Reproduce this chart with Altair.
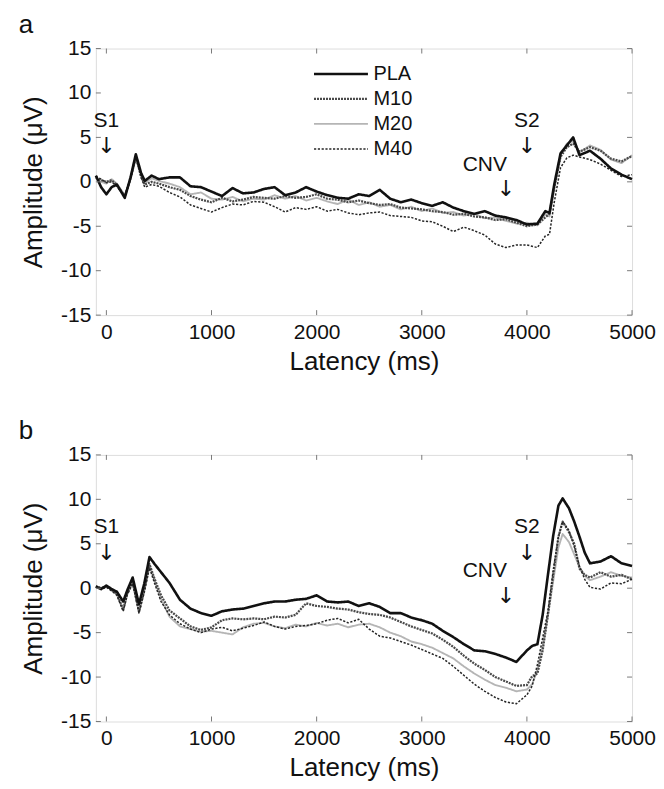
import altair as alt
import pandas as pd

FONT = "Liberation Sans"
ARROW_FONT = "DejaVu Sans"
series_names = ["PLA", "M10", "M20", "M40"]
series_colors = ["#111111", "#4a4a4a", "#b5b5b5", "#262626"]
series_widths = [2.6, 1.5, 1.3, 2.4]
series_dash = [[1, 0], [2, 1], [1, 0], [2.2, 1.6]]
draw_order = ["M20", "M10", "M40", "PLA"]

x_ticks = [0, 1000, 2000, 3000, 4000, 5000]
y_ticks = [-15, -10, -5, 0, 5, 10, 15]

# ---------------- panel a ----------------
lat_a = [-100, -50, 0, 50, 100, 175, 230, 280, 330, 365, 430, 500,
         600, 700, 800, 900, 1000, 1100, 1200, 1300, 1400, 1500, 1600, 1700,
         1800, 1900, 2000, 2100, 2200, 2300, 2400, 2500, 2600, 2700, 2800, 2900,
         3000, 3100, 3200, 3300, 3400, 3500, 3600, 3700, 3800, 3900, 4000, 4100,
         4175, 4215, 4260, 4320, 4380, 4440, 4500, 4600, 4700, 4800, 4900, 5000]
pla_a = [0.7, -0.6, -1.4, -0.6, -0.3, -1.8, 0.5, 3.1, 1.0, 0.1, 0.7, 0.3,
         0.5, 0.5, -0.5, -0.6, -1.1, -1.6, -0.7, -1.3, -1.2, -0.8, -0.6, -1.5,
         -1.2, -0.6, -1.1, -1.5, -1.8, -1.9, -1.4, -1.6, -0.9, -1.9, -2.3, -2.0,
         -2.4, -2.7, -2.3, -2.9, -3.3, -3.6, -3.3, -3.8, -4.0, -4.3, -4.8, -4.7,
         -3.3, -3.5, -0.3, 3.2, 4.1, 5.0, 3.0, 3.5, 2.6, 1.5, 0.8, 0.3]
m10_a = [0.5, 0.2, 0.0, 0.2, -0.4, -1.6, 0.4, 2.8, 0.6, -0.3, 0.0, -0.2,
         -0.6, -0.9, -1.6, -2.0, -2.3, -1.8, -2.2, -2.0, -1.7, -1.8, -1.9, -1.6,
         -1.8, -1.7, -1.4, -1.9, -2.0, -2.3, -2.1, -2.4, -2.6, -2.5, -2.9, -3.0,
         -3.1, -3.3, -3.4, -3.7, -3.6, -3.9, -4.0, -4.3, -4.2, -4.6, -5.0, -4.8,
         -4.0, -3.6, -0.6, 2.8, 3.9, 4.3, 3.4, 3.9, 3.5, 2.6, 2.3, 2.9]
m20_a = [0.4, 0.0, -0.2, 0.3, -0.2, -1.5, 0.3, 2.6, 0.8, -0.1, 0.4, 0.1,
         -0.2, -0.6, -1.4, -1.2, -1.9, -2.0, -1.7, -2.2, -1.9, -2.0, -1.5, -1.9,
         -1.6, -2.1, -1.8, -2.2, -2.5, -2.0, -2.6, -2.3, -2.8, -2.6, -3.1, -2.8,
         -3.3, -3.0, -3.5, -3.4, -3.8, -3.6, -4.1, -4.0, -4.4, -4.7, -4.6, -4.9,
         -3.6, -3.9, -0.8, 3.0, 4.3, 4.6, 3.3, 4.1, 3.6, 2.5, 2.1, 3.0]
m40_a = [0.6, 0.3, -0.1, 0.0, -0.5, -1.7, 0.3, 2.9, 0.5, -0.6, -0.3, -0.5,
         -1.2, -1.7, -2.6, -3.0, -3.4, -2.9, -2.5, -2.6, -2.2, -2.3, -2.8, -3.4,
         -2.9, -3.1, -2.8, -3.3, -3.1, -3.5, -3.7, -3.5, -3.4, -3.8, -3.9, -4.0,
         -4.4, -4.5, -5.0, -5.6, -5.1, -5.5, -6.0, -7.0, -7.4, -7.1, -7.1, -7.4,
         -6.1, -5.9, -2.3, 1.6, 2.7, 3.0, 2.8, 2.5, 2.0, 1.3, 0.6, 0.8]

# ---------------- panel b ----------------
lat_b = [-100, -50, 0, 50, 100, 160, 200, 250, 310, 360, 410, 460, 520,
         600, 700, 800, 900, 1000, 1100, 1200, 1300, 1400, 1500, 1600, 1700,
         1800, 1900, 2000, 2100, 2200, 2300, 2400, 2500, 2600, 2700, 2800, 2900,
         3000, 3100, 3200, 3300, 3400, 3500, 3600, 3700, 3800, 3900, 4000,
         4050, 4100, 4150, 4200, 4250, 4300, 4340, 4400, 4450, 4500, 4550, 4600,
         4700, 4800, 4900, 5000]
pla_b = [0.2, -0.1, 0.3, -0.1, -0.4, -1.5, -0.2, 1.2, -1.8, 0.5, 3.5, 2.7, 1.8,
         0.6, -1.3, -2.3, -2.8, -3.1, -2.6, -2.4, -2.3, -2.0, -1.7, -1.5, -1.5,
         -1.3, -1.2, -0.8, -1.5, -1.6, -1.5, -2.0, -1.7, -2.1, -2.8, -2.8, -3.3,
         -3.6, -4.0, -4.8, -5.5, -6.3, -7.0, -7.1, -7.4, -7.8, -8.3, -7.0,
         -6.5, -6.3, -3.0, 1.5, 5.9, 9.3, 10.1, 9.0, 7.5, 5.8, 4.0, 2.8,
         3.0, 3.6, 2.8, 2.5]
m10_b = [0.2, 0.0, 0.2, -0.2, -0.6, -2.4, -0.5, 0.7, -2.6, -0.2, 2.7, 1.0, -0.8,
         -2.5, -3.4, -4.3, -4.7, -4.4, -3.6, -3.4, -3.5, -3.4, -3.5, -3.2, -3.3,
         -3.0, -1.7, -2.0, -2.1, -2.3, -2.4, -2.7, -2.9, -3.0, -3.3, -3.8, -4.3,
         -4.7, -5.1, -5.8, -6.6, -7.6, -8.5, -9.2, -10.0, -10.5, -11.0, -10.9,
         -9.9, -9.6, -7.0, -3.0, 1.5, 5.8, 7.5, 6.3, 5.0, 2.2, 1.5, 1.2,
         1.8, 1.3, 1.5, 1.0]
m20_b = [0.2, 0.0, 0.2, -0.2, -0.7, -2.5, -0.6, 0.6, -2.7, -0.3, 2.5, 0.8, -1.2,
         -3.2, -4.3, -4.6, -4.9, -4.8, -5.0, -5.2, -4.4, -4.0, -3.9, -4.3, -4.5,
         -4.1, -4.3, -3.9, -4.2, -4.0, -4.4, -4.1, -4.0, -4.4, -5.0, -5.4, -6.0,
         -6.3, -6.7, -7.3, -7.9, -8.8, -9.6, -10.3, -10.9, -11.2, -11.6, -11.4,
         -10.8, -9.2, -6.5, -3.1, 0.8, 4.6, 6.1, 5.2, 3.8, 2.4, 1.4, 0.9,
         1.3, 1.8, 1.4, 1.2]
m40_b = [0.1, -0.1, 0.1, -0.3, -0.8, -2.6, -0.7, 0.5, -2.8, -0.5, 2.3, 0.5, -1.5,
         -3.0, -4.0, -4.6, -5.0, -4.6, -4.4, -4.8, -4.5, -4.2, -3.8, -4.3, -4.6,
         -4.3, -4.2, -4.0, -3.6, -3.4, -3.9, -3.5, -4.6, -5.4, -5.6, -6.0, -6.4,
         -6.9, -7.4, -7.9, -8.8, -9.8, -10.8, -11.6, -12.3, -12.8, -13.0, -12.0,
         -11.0, -8.6, -5.6, -2.6, 2.0, 5.8, 7.5, 6.5, 4.7, 2.5, 1.0, 0.1,
         -0.1, 0.6, 0.5, 1.0]

# annotations (latency, amplitude) in data units
label_text = ["S1", "S2", "CNV"]
label_lat = [0, 4000, 3600]
label_amp = [6.9, 6.9, 1.9]
arrow_text = ["\u2193", "\u2193", "\u2193"]
arrow_lat = [0, 4000, 3800]
arrow_amp = [4.0, 4.0, -0.85]

W, H = 537, 267
FRAME = "#7a7a7a"
TICK_LEN = 5

xscale = alt.Scale(domain=[-100, 5000], nice=False, zero=False)
yscale = alt.Scale(domain=[-15, 15], nice=False, zero=False)
xaxis = alt.Axis(values=x_ticks, title="Latency (ms)", grid=False, domain=False,
                 ticks=False, tickSize=0, labelFontSize=21, labelFont=FONT,
                 labelColor="#111", labelPadding=6, labelExpr="'' + datum.value",
                 titleFontSize=26, titleFont=FONT, titleFontWeight="normal",
                 titleColor="#111", titlePadding=6, labelFlush=False)
yaxis = alt.Axis(values=y_ticks, title="Amplitude (\u03bcV)", grid=False, domain=False,
                 ticks=False, tickSize=0, labelFontSize=21, labelFont=FONT,
                 labelColor="#111", labelPadding=5, labelExpr="'' + datum.value",
                 titleFontSize=26, titleFont=FONT, titleFontWeight="normal",
                 titleColor="#111", titlePadding=14, labelFlush=False)


def make_panel(lat, vals, letter, show_legend):
    rows = []
    for s in draw_order:
        for l, v in zip(lat, vals[s]):
            rows.append({"lat": l, "amp": v, "series": s})
    df = pd.DataFrame(rows)
    X = alt.X("lat:Q", scale=xscale, axis=xaxis)
    Y = alt.Y("amp:Q", scale=yscale, axis=yaxis)
    if show_legend:
        leg = alt.Legend(orient="none", legendX=217, legendY=13, title=None,
                         symbolType="stroke", symbolSize=2916, clipHeight=25,
                         rowPadding=0, labelOffset=4, padding=0,
                         labelFontSize=20, labelFont=FONT, labelColor="#111",
                         symbolOffset=0)
    else:
        leg = None
    enc = dict(
        color=alt.Color("series:N", scale=alt.Scale(domain=series_names, range=series_colors),
                        legend=leg, sort=series_names),
        strokeDash=alt.StrokeDash("series:N", scale=alt.Scale(domain=series_names, range=series_dash),
                                  legend=leg, sort=series_names),
        strokeWidth=alt.StrokeWidth("series:N", scale=alt.Scale(domain=series_names, range=series_widths),
                                    legend=leg, sort=series_names),
    )
    layers = []
    for s in draw_order:
        layers.append(
            alt.Chart(df[df.series == s]).mark_line(strokeJoin="round").encode(x=X, y=Y, **enc)
        )
    tx = pd.DataFrame({"lat": x_ticks})
    ty = pd.DataFrame({"amp": y_ticks})
    layers.append(alt.Chart(tx).mark_rule(color=FRAME, strokeWidth=1).encode(
        x=X, y=alt.value(H), y2=alt.value(H - TICK_LEN)))
    layers.append(alt.Chart(tx).mark_rule(color=FRAME, strokeWidth=1).encode(
        x=X, y=alt.value(0), y2=alt.value(TICK_LEN)))
    layers.append(alt.Chart(ty).mark_rule(color=FRAME, strokeWidth=1).encode(
        y=Y, x=alt.value(0), x2=alt.value(TICK_LEN)))
    layers.append(alt.Chart(ty).mark_rule(color=FRAME, strokeWidth=1).encode(
        y=Y, x=alt.value(W), x2=alt.value(W - TICK_LEN)))
    lab = pd.DataFrame({"lat": label_lat, "amp": label_amp, "txt": label_text})
    layers.append(alt.Chart(lab).mark_text(font=FONT, fontSize=21, color="#111",
                                           baseline="middle", align="center").encode(
        x=X, y=Y, text="txt:N"))
    arr = pd.DataFrame({"lat": arrow_lat, "amp": arrow_amp, "txt": arrow_text})
    layers.append(alt.Chart(arr).mark_text(font=ARROW_FONT, fontSize=22, color="#111",
                                           baseline="middle", align="center").encode(
        x=X, y=Y, text="txt:N"))
    return alt.layer(*layers).properties(
        width=W, height=H,
        title=alt.TitleParams(letter, anchor="start", frame="bounds", fontSize=26,
                              font=FONT, fontWeight="normal", color="#111", offset=0, dx=-2),
    )


pa = make_panel(lat_a, {"PLA": pla_a, "M10": m10_a, "M20": m20_a, "M40": m40_a}, "a", True)
pb = make_panel(lat_b, {"PLA": pla_b, "M10": m10_b, "M20": m20_b, "M40": m40_b}, "b", False)

chart = alt.vconcat(pa, pb, spacing=42).resolve_scale(
    color="independent", strokeDash="independent", strokeWidth="independent"
).resolve_legend(color="independent", strokeDash="independent", strokeWidth="independent"
).properties(padding={"left": 10, "top": 2, "right": 0, "bottom": 0}
).configure_view(stroke=FRAME, strokeWidth=1.2
).configure(background="white")

chart.save("out.html", embed_options={"renderer": "svg", "actions": False})
